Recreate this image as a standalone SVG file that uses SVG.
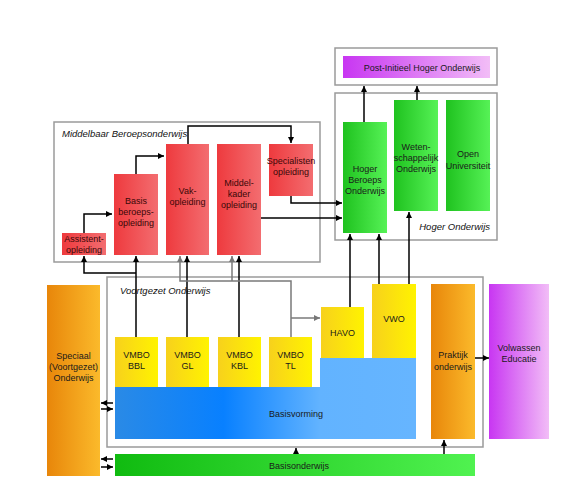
<svg xmlns="http://www.w3.org/2000/svg" width="578" height="504" viewBox="0 0 578 504">
<defs>
<linearGradient id="gRed" x1="0" y1="0" x2="1" y2="0"><stop offset="0" stop-color="#ee3a3e"/><stop offset="1" stop-color="#f36d70"/></linearGradient>
<linearGradient id="gGreen" x1="0" y1="0" x2="1" y2="0"><stop offset="0" stop-color="#1fc21f"/><stop offset="1" stop-color="#56f256"/></linearGradient>
<linearGradient id="gGreen2" x1="0" y1="0" x2="1" y2="0"><stop offset="0" stop-color="#10bb10"/><stop offset="1" stop-color="#50f250"/></linearGradient>
<linearGradient id="gPurple" x1="0" y1="0" x2="1" y2="0"><stop offset="0" stop-color="#c836f2"/><stop offset="1" stop-color="#f2bdf7"/></linearGradient>
<linearGradient id="gYellow" x1="0" y1="0" x2="1" y2="0"><stop offset="0" stop-color="#f7d11c"/><stop offset="1" stop-color="#fff300"/></linearGradient>
<linearGradient id="gOrange" x1="0" y1="0" x2="1" y2="0"><stop offset="0" stop-color="#e8860a"/><stop offset="1" stop-color="#fbba2b"/></linearGradient>
<linearGradient id="gBlue" gradientUnits="userSpaceOnUse" x1="115" y1="0" x2="416" y2="0"><stop offset="0" stop-color="#2a8ae6"/><stop offset="0.36" stop-color="#0880ff"/><stop offset="0.68" stop-color="#62b3ff"/><stop offset="1" stop-color="#66b5ff"/></linearGradient>
<marker id="ah" viewBox="0 0 6 6" refX="6" refY="3" markerWidth="6" markerHeight="6" markerUnits="userSpaceOnUse" orient="auto"><path d="M0,0 L6,3 L0,6 z" fill="#000"/></marker>
<marker id="ahg" viewBox="0 0 6 6" refX="6" refY="3" markerWidth="6" markerHeight="6" markerUnits="userSpaceOnUse" orient="auto"><path d="M0,0 L6,3 L0,6 z" fill="#777"/></marker>
<style>
.box{fill:none;stroke:#9a9a9a;stroke-width:1.5}
.lbl{font-family:"Liberation Sans",Arial,sans-serif;font-size:9.5px;font-style:italic;fill:#111}
.t{font-family:"Liberation Sans",Arial,sans-serif;font-size:9px;fill:#1a1a1a;text-anchor:middle}
.tr{font-family:"Liberation Sans",Arial,sans-serif;font-size:9px;fill:#3a0808;text-anchor:middle}
.c{fill:none;stroke:#000;stroke-width:1.5;marker-end:url(#ah)}
.cg{fill:none;stroke:#7a7a7a;stroke-width:1.5;marker-end:url(#ahg)}
.ln{fill:none;stroke:#000;stroke-width:1.5}
.lg{fill:none;stroke:#7a7a7a;stroke-width:1.5}
</style>
</defs>
<rect width="578" height="504" fill="#fff"/>

<!-- containers -->
<g id="mbo-box"><rect class="box" x="54" y="122" width="266" height="140"/><text class="lbl" x="62" y="137">Middelbaar Beroepsonderwijs</text></g>
<g id="ho-box"><rect class="box" x="335" y="93" width="162" height="147"/><text class="lbl" x="490" y="230" text-anchor="end">Hoger Onderwijs</text></g>
<g id="post-box"><rect class="box" x="335" y="48" width="162" height="37"/></g>
<g id="vo-box"><rect class="box" x="107" y="277" width="376" height="170"/><text class="lbl" x="120" y="294">Voortgezet Onderwijs</text></g>

<!-- connectors -->
<g id="connectors">
<path class="c" d="M188,144 V126 H291 V143"/>
<path class="c" d="M84,233 V214 H112"/>
<path class="c" d="M136,174 V156 H164"/>
<path class="c" d="M291,196 V203 H342"/>
<path class="c" d="M261,218 H342"/>
<path class="c" d="M364,122 V86"/>
<path class="c" d="M417,100 V86"/>
<path class="c" d="M136,337 V256"/>
<path class="c" d="M136,273 H84 V256"/>
<path class="c" d="M187,337 V256"/>
<path class="c" d="M239,337 V256"/>
<path class="cg" d="M291,337 V281 H180 V256"/>
<path class="cg" d="M232,281 V256"/>
<path class="cg" d="M291,318 H320"/>
<path class="c" d="M350,307 V234"/>
<path class="c" d="M379,284 V234"/>
<path class="c" d="M409,284 V212"/>
<path class="c" d="M113,403 H101"/>
<path class="c" d="M101,409 H113"/>
<path class="c" d="M113,459 H101"/>
<path class="c" d="M101,467 H113"/>
<path class="c" d="M296,454 V448"/>
<path class="c" d="M444,454 V440"/>
<path class="c" d="M475,358 H489"/>
</g>

<!-- MBO nodes -->
<g id="assistent"><rect x="62" y="233" width="44" height="22" fill="url(#gRed)"/><text class="tr" x="84" y="241.5">Assistent-</text><text class="tr" x="84" y="252.5">opleiding</text></g>
<g id="basisberoeps"><rect x="114" y="174" width="44" height="81" fill="url(#gRed)"/><text class="tr" x="136" y="204">Basis</text><text class="tr" x="136" y="215">beroeps-</text><text class="tr" x="136" y="226">opleiding</text></g>
<g id="vak"><rect x="166" y="144" width="43" height="111" fill="url(#gRed)"/><text class="tr" x="187.5" y="194">Vak-</text><text class="tr" x="187.5" y="205">opleiding</text></g>
<g id="middelkader"><rect x="217" y="144" width="44" height="111" fill="url(#gRed)"/><text class="tr" x="239" y="186">Middel-</text><text class="tr" x="239" y="197">kader</text><text class="tr" x="239" y="208">opleiding</text></g>
<g id="specialisten"><rect x="269" y="144" width="44" height="52" fill="url(#gRed)"/><text class="tr" x="291" y="164">Specialisten</text><text class="tr" x="291" y="175">opleiding</text></g>

<!-- HO nodes -->
<g id="postinitieel"><rect x="343" y="56" width="147" height="22" fill="url(#gPurple)"/><text class="t" x="422" y="71">Post-Initieel Hoger Onderwijs</text></g>
<g id="hbo"><rect x="343" y="122" width="44" height="111" fill="url(#gGreen)"/><text class="t" x="365" y="172">Hoger</text><text class="t" x="365" y="183">Beroeps</text><text class="t" x="365" y="194">Onderwijs</text></g>
<g id="wo"><rect x="394" y="100" width="44" height="111" fill="url(#gGreen)"/><text class="t" x="416" y="150">Weten-</text><text class="t" x="416" y="161">schappelijk</text><text class="t" x="416" y="172">Onderwijs</text></g>
<g id="ou"><rect x="446" y="100" width="44" height="111" fill="url(#gGreen)"/><text class="t" x="468" y="157">Open</text><text class="t" x="468" y="169">Universiteit</text></g>

<!-- VO nodes -->
<g id="speciaal"><rect x="47" y="285" width="53" height="191" fill="url(#gOrange)"/><text class="t" x="73.5" y="359">Speciaal</text><text class="t" x="73.5" y="370">(Voortgezet)</text><text class="t" x="73.5" y="381">Onderwijs</text></g>
<g id="basisvorming"><path d="M115,387 H320 V358 H416 V439 H115 Z" fill="url(#gBlue)"/><text class="t" x="296" y="417">Basisvorming</text></g>
<g id="vmbo-bbl"><rect x="115" y="337" width="43" height="50" fill="url(#gYellow)"/><text class="t" x="136.5" y="358">VMBO</text><text class="t" x="136.5" y="369">BBL</text></g>
<g id="vmbo-gl"><rect x="166" y="337" width="43" height="50" fill="url(#gYellow)"/><text class="t" x="187.5" y="358">VMBO</text><text class="t" x="187.5" y="369">GL</text></g>
<g id="vmbo-kbl"><rect x="218" y="337" width="43" height="50" fill="url(#gYellow)"/><text class="t" x="239.5" y="358">VMBO</text><text class="t" x="239.5" y="369">KBL</text></g>
<g id="vmbo-tl"><rect x="269" y="337" width="43" height="50" fill="url(#gYellow)"/><text class="t" x="290.5" y="358">VMBO</text><text class="t" x="290.5" y="369">TL</text></g>
<g id="havo"><rect x="321" y="307" width="43" height="51" fill="url(#gYellow)"/><text class="t" x="342.5" y="336">HAVO</text></g>
<g id="vwo"><rect x="372" y="284" width="44" height="74" fill="url(#gYellow)"/><text class="t" x="394" y="322">VWO</text></g>
<g id="praktijk"><rect x="431" y="284" width="44" height="155" fill="url(#gOrange)"/><text class="t" x="453" y="358">Praktijk</text><text class="t" x="453" y="370">onderwijs</text></g>
<g id="volwassen"><rect x="489" y="284" width="60" height="155" fill="url(#gPurple)"/><text class="t" x="519" y="351">Volwassen</text><text class="t" x="519" y="362">Educatie</text></g>
<g id="basisonderwijs"><rect x="115" y="454" width="360" height="22" fill="url(#gGreen2)"/><text class="t" x="299" y="469">Basisonderwijs</text></g>
</svg>
